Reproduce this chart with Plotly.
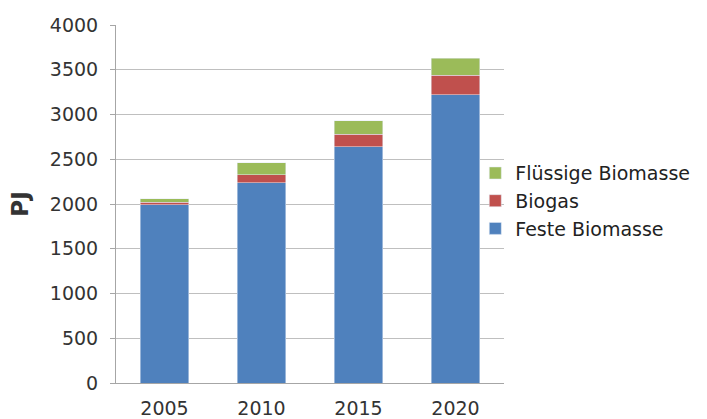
import plotly.graph_objects as go

years = ["2005", "2010", "2015", "2020"]
feste = [1990, 2240, 2640, 3220]
biogas = [30, 85, 140, 220]
fluessig = [40, 135, 150, 190]
y_ticks = [0, 500, 1000, 1500, 2000, 2500, 3000, 3500, 4000]

font_family = "DejaVu Sans, Verdana, sans-serif"
txt = "#333333"

fig = go.Figure()
fig.add_trace(go.Bar(x=years, y=feste, name="Feste Biomasse", marker_color="#4F81BD",
                     legendrank=3))
fig.add_trace(go.Bar(x=years, y=biogas, name="Biogas", marker_color="#C0504D",
                     legendrank=2))
fig.add_trace(go.Bar(x=years, y=fluessig, name="Flüssige Biomasse", marker_color="#9BBB59",
                     legendrank=1))

fig.update_layout(
    barmode="stack",
    bargap=0.5,
    width=707, height=419,
    margin=dict(l=116, r=203, t=25, b=36),
    paper_bgcolor="white", plot_bgcolor="white",
    font=dict(family=font_family, size=19, color=txt),
    legend=dict(
        x=0.926, y=0.508, xanchor="left", yanchor="middle",
        traceorder="normal", bgcolor="rgba(0,0,0,0)",
        font=dict(size=19, color="#222222"),
        itemwidth=30, borderwidth=0,
    ),
    showlegend=True,
)
fig.update_xaxes(
    showline=True, linecolor="#a6a6a6", linewidth=1,
    ticks="", tickfont=dict(size=19, color=txt), ticklabelstandoff=8,
    automargin=False,
)
fig.update_yaxes(
    range=[0, 4000], tickvals=y_ticks,
    showgrid=True, gridcolor="#bfbfbf", gridwidth=1,
    showline=True, linecolor="#a6a6a6", linewidth=1,
    ticks="outside", ticklen=5, tickcolor="#a6a6a6",
    ticklabelstandoff=8,
    tickfont=dict(size=19, color=txt),
    title=dict(text="<b>PJ</b>", font=dict(size=23, color=txt), standoff=14),
    zeroline=False, automargin=False,
)

fig.write_html("out.html")
